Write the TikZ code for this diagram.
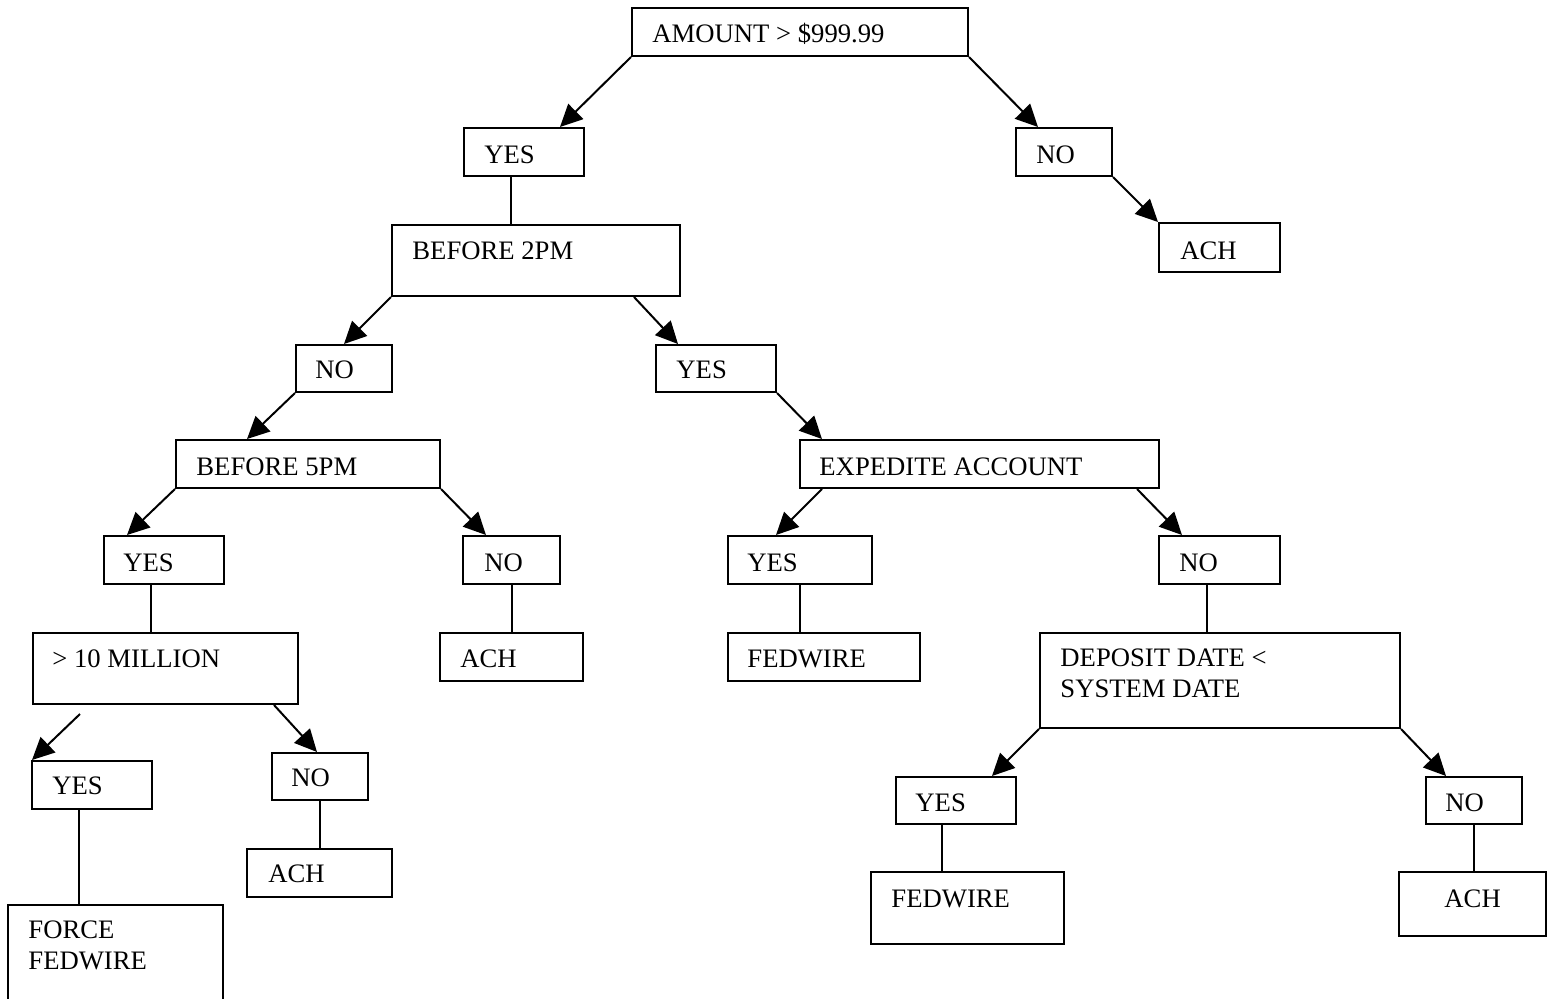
\documentclass[tikz,border=0pt]{standalone}
\usepackage{fontspec}
\setmainfont{Liberation Serif}
\usetikzlibrary{arrows.meta}
\usetikzlibrary{fit}

\tikzset{
  box/.style={draw,line width=0.9pt,inner sep=0pt},
  txt/.style={anchor=base west,inner sep=0pt,align=left,font=\fontsize{12}{13.7}\selectfont},
  arr/.style={line width=0.9pt,-{Triangle[length=10pt,width=9.5pt]}},
  con/.style={line width=0.9pt}
}

\begin{document}
\begin{tikzpicture}[x=0.45pt,y=-0.45pt]
\useasboundingbox (0,0) rectangle (1556,998);
\clip (0,0) rectangle (1556,998);

    % Place boxes
    \node[box,fit={(632,8) (968,56)}] (amt) {};
    \node[box,fit={(464,128) (584,176)}] (yes1) {};
    \node[box,fit={(1016,128) (1112,176)}] (no1) {};
    \node[box,fit={(1159,223) (1280,272)}] (ach1) {};
    \node[box,fit={(392,225) (680,296)}] (b2) {};
    \node[box,fit={(296,345) (392,392)}] (no2) {};
    \node[box,fit={(656,345) (776,392)}] (yes2) {};
    \node[box,fit={(176,440) (440,488)}] (b5) {};
    \node[box,fit={(800,440) (1159,488)}] (exp) {};
    \node[box,fit={(104,536) (224,584)}] (yes3) {};
    \node[box,fit={(463,536) (560,584)}] (no3) {};
    \node[box,fit={(728,536) (872,584)}] (yes4) {};
    \node[box,fit={(1159,536) (1280,584)}] (no4) {};
    \node[box,fit={(33,633) (298,704)}] (m10) {};
    \node[box,fit={(440,633) (583,681)}] (ach2) {};
    \node[box,fit={(728,633) (920,681)}] (fw1) {};
    \node[box,fit={(1040,633) (1400,728)}] (dep) {};
    \node[box,fit={(32,761) (152,809)}] (yes5) {};
    \node[box,fit={(272,753) (368,800)}] (no5) {};
    \node[box,fit={(247,849) (392,897)}] (ach3) {};
    \node[box,fit={(896,777) (1016,824)}] (yes6) {};
    \node[box,fit={(1426,777) (1522,824)}] (no6) {};
    \node[box,fit={(871,872) (1064,944)}] (fw2) {};
    \node[box,fit={(1399,872) (1546,936)}] (ach4) {};
    \node[box,fit={(8,905) (223,1012)}] (force) {};

    % Texts
    \node[txt] (amtT) at ([shift={(21,35)}]amt.north west) {AMOUNT > \$999.99};
    \node[txt] (yes1T) at ([shift={(21,36)}]yes1.north west) {YES};
    \node[txt] (no1T) at ([shift={(21,36)}]no1.north west) {NO};
    \node[txt] (ach1T) at ([shift={(22,37)}]ach1.north west) {ACH};
    \node[txt] (b2T) at ([shift={(21,35)}]b2.north west) {BEFORE 2PM};
    \node[txt] (no2T) at ([shift={(20,34)}]no2.north west) {NO};
    \node[txt] (yes2T) at ([shift={(21,34)}]yes2.north west) {YES};
    \node[txt] (b5T) at ([shift={(21,36)}]b5.north west) {BEFORE 5PM};
    \node[txt] (expT) at ([shift={(20,36)}]exp.north west) {EXPEDITE ACCOUNT};
    \node[txt] (yes3T) at ([shift={(20,36)}]yes3.north west) {YES};
    \node[txt] (no3T) at ([shift={(22,36)}]no3.north west) {NO};
    \node[txt] (yes4T) at ([shift={(20,36)}]yes4.north west) {YES};
    \node[txt] (no4T) at ([shift={(21,36)}]no4.north west) {NO};
    \node[txt] (m10T) at ([shift={(20,35)}]m10.north west) {> 10 MILLION};
    \node[txt] (ach2T) at ([shift={(21,35)}]ach2.north west) {ACH};
    \node[txt] (fw1T) at ([shift={(20,35)}]fw1.north west) {FEDWIRE};
    \node[txt] (depT) at ([shift={(21,65)}]dep.north west) {DEPOSIT DATE <\\SYSTEM DATE};
    \node[txt] (yes5T) at ([shift={(21,34)}]yes5.north west) {YES};
    \node[txt] (no5T) at ([shift={(20,34)}]no5.north west) {NO};
    \node[txt] (ach3T) at ([shift={(22,34)}]ach3.north west) {ACH};
    \node[txt] (yes6T) at ([shift={(20,35)}]yes6.north west) {YES};
    \node[txt] (no6T) at ([shift={(20,35)}]no6.north west) {NO};
    \node[txt] (fw2T) at ([shift={(21,36)}]fw2.north west) {FEDWIRE};
    \node[txt] (ach4T) at ([shift={(46,36)}]ach4.north west) {ACH};
    \node[txt] (forceT) at ([shift={(21,65)}]force.north west) {FORCE\\FEDWIRE};

    % Connectors
    \draw[arr] (amt.south west) -- ([shift={(97,0)}]yes1.north west);
    \draw[arr] (amt.south east) -- ([shift={(23,0)}]no1.north west);
    \draw[arr] (no1.south east) -- (ach1.north west);
    \draw[con] ([shift={(48,0)}]yes1.south west) -- ([shift={(48,0)}]yes1.south west |- b2.north);
    \draw[arr] (b2.south west) -- ([shift={(49,0)}]no2.north west);
    \draw[arr] ([shift={(-47,0)}]b2.south east) -- ([shift={(23,0)}]yes2.north west);
    \draw[arr] (no2.south west) -- ([shift={(72,0)}]b5.north west);
    \draw[arr] (yes2.south east) -- ([shift={(23,0)}]exp.north west);
    \draw[arr] (b5.south west) -- ([shift={(24,0)}]yes3.north west);
    \draw[arr] (b5.south east) -- ([shift={(24,0)}]no3.north west);
    \draw[arr] ([shift={(23,0)}]exp.south west) -- ([shift={(49,0)}]yes4.north west);
    \draw[arr] ([shift={(-23,0)}]exp.south east) -- ([shift={(24,0)}]no4.north west);
    \draw[con] ([shift={(48,0)}]yes3.south west) -- ([shift={(48,0)}]yes3.south west |- m10.north);
    \draw[con] (no3.south) -- (no3.south |- ach2.north);
    \draw[con] (yes4.south) -- (yes4.south |- fw1.north);
    \draw[con] ([shift={(49,0)}]no4.south west) -- ([shift={(49,0)}]no4.south west |- dep.north);
    \draw[arr] ([shift={(48,9)}]m10.south west) -- ([shift={(1,0)}]yes5.north west);
    \draw[arr] ([shift={(-25,0)}]m10.south east) -- ([shift={(46,0)}]no5.north west);
    \draw[con] ([shift={(48,0)}]yes5.south west) -- ([shift={(48,0)}]yes5.south west |- force.north);
    \draw[con] (no5.south) -- (no5.south |- ach3.north);
    \draw[arr] (dep.south west) -- ([shift={(97,0)}]yes6.north west);
    \draw[arr] (dep.south east) -- ([shift={(21,0)}]no6.north west);
    \draw[con] ([shift={(47,0)}]yes6.south west) -- ([shift={(47,0)}]yes6.south west |- fw2.north);
    \draw[con] (no6.south) -- (no6.south |- ach4.north);
\end{tikzpicture}
\end{document}
